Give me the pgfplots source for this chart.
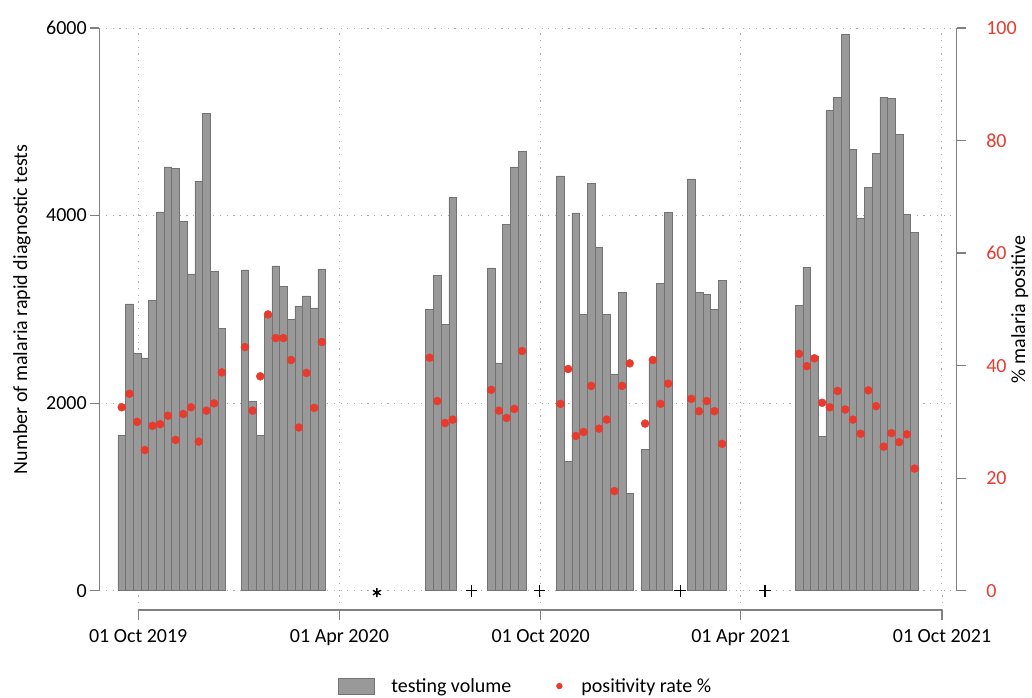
\documentclass[border=0pt]{standalone}
\usepackage{fontspec}
\setmainfont{Carlito}
\usepackage{pgfplots}
\pgfplotsset{compat=1.18}
\definecolor{barfill}{RGB}{153,153,153}
\definecolor{baredge}{RGB}{115,115,115}
\definecolor{dotred}{RGB}{233,58,46}
\definecolor{axgray}{RGB}{128,128,128}
\definecolor{gridc}{RGB}{170,170,170}

\pgfplotstableread{
d v
-15 1659
-8 3058
-1 2533
6 2483
13 3097
20 4039
27 4518
34 4500
41 3939
48 3378
55 4366
62 5087
69 3406
76 2799
97 3421
104 2018
111 1659
118 2938
125 3463
132 3247
139 2895
146 3037
153 3144
160 3016
167 3431
265 3003
272 3358
279 2837
286 4195
321 3443
328 2429
335 3904
342 4518
349 4688
384 4422
391 1383
398 4028
405 2943
412 4340
419 3659
426 2950
433 2312
440 3181
447 1035
461 1507
468 2436
475 3280
482 4035
503 4390
510 3177
517 3160
524 2996
531 3305
601 3039
608 3449
615 2500
622 1646
629 5118
636 5256
643 5933
650 4705
657 3976
664 4299
671 4665
678 5264
685 5248
692 4866
699 4016
706 3823
}\volume

\pgfplotstableread{
d p
-15 32.6
-8 35.0
-1 30.0
6 25.0
13 29.3
20 29.6
27 31.1
34 26.8
41 31.4
48 32.6
55 26.5
62 32.0
69 33.3
76 38.8
97 43.3
104 32.0
111 38.1
118 49.1
125 44.9
132 44.9
139 41.0
146 29.0
153 38.7
160 32.5
167 44.2
265 41.4
272 33.7
279 29.8
286 30.4
321 35.7
328 32.0
335 30.7
342 32.3
349 42.6
384 33.2
391 39.4
398 27.5
405 28.2
412 36.4
419 28.8
426 30.4
433 17.7
440 36.4
447 40.4
461 29.7
468 41.0
475 33.2
482 36.8
503 34.1
510 31.9
517 33.7
524 31.9
531 26.1
601 42.1
608 39.9
615 41.3
622 33.4
629 32.6
636 35.5
643 32.2
650 30.4
657 27.9
664 35.6
671 32.8
678 25.6
685 28.0
692 26.4
699 27.8
706 21.7
}\positivity

\pgfplotstableread{
d y
303 0
365 0
493 0
570 0
}\plusmarks

\pgfplotstableread{
d y
217 -20
}\starmarks

\begin{document}
\begin{tikzpicture}
\path[use as bounding box] (-99.3pt,-106.3pt) rectangle (932.7pt,590.7pt);
\pgfplotsset{
  every axis/.append style={
    font=\fontsize{20}{24}\selectfont,
    /pgf/number format/assume math mode=true,
    /pgf/number format/1000 sep={},
    scale only axis,
    axis line style={-},
  },
  mygrid/.style={grid style={draw=gridc, line width=1pt, dash pattern=on 1.2pt off 5.5pt}},
}
% bottom date axis
\begin{axis}[
  at={(38.9pt,-19.3pt)}, anchor=south west,
  width=803.8pt, height=19.3pt,
  xmin=0, xmax=731, ymin=0, ymax=1,
  axis x line*=bottom, axis y line=none,
  x axis line style={draw=axgray, line width=1.5pt},
  xtick={0,183,366,548,731},
  xticklabels={01 Oct 2019,01 Apr 2020,01 Oct 2020,01 Apr 2021,01 Oct 2021},
  xticklabel style={yshift=-6pt},
  tick align=outside, major tick length=10pt,
  xtick style={draw=axgray, line width=1.2pt},
  xmajorgrids, mygrid,
]
\addplot[draw=none] coordinates {(0,0)};
\end{axis}

% bars, left axis
\begin{axis}[
  at={(0pt,0pt)}, anchor=south west,
  width=857.4pt, height=562.7pt,
  xmin=-35.4, xmax=744.4, ymin=0, ymax=6000,
  clip=false,
  axis x line*=bottom, axis y line*=left,
  x axis line style={draw=none},
  y axis line style={draw=axgray, line width=1.5pt},
  xtick={0,183,366,548,731}, xticklabels={},
  xtick style={draw=none},
  ytick={0,2000,4000,6000},
  ytick style={draw=axgray, line width=1.2pt},
  tick align=outside, major tick length=9pt,
  xmajorgrids, ymajorgrids, mygrid,
  ylabel={Number of malaria rapid diagnostic tests},
  every axis y label/.style={at={(axis description cs:0,0.5)}, xshift=-77.3pt, rotate=90, anchor=center},
  legend columns=2,
  legend style={at={(0.497,-0.1694)}, anchor=center, draw=none, fill=none,
    font=\fontsize{20}{24}\selectfont,
    /tikz/every odd column/.append style={column sep=15pt},
    /tikz/every even column/.append style={column sep=41pt}},
  legend cell align=left,
]
\addplot[ybar, bar width=7, bar shift=0pt, fill=barfill, draw=baredge, line width=0.6pt,
  legend image code/.code={\draw[fill=barfill, draw=baredge, line width=0.6pt] (0pt,-8pt) rectangle (36pt,8pt);}]
  table[x=d, y=v] {\volume};
\addlegendentry{testing volume}
\addlegendimage{legend image code/.code={\path[draw=none, fill=none] (0pt,-3pt) rectangle (10pt,3pt); \fill[dotred, draw=none] (5pt,0pt) circle (3.2pt);}}
\addlegendentry{positivity rate \%}
\addplot[only marks, mark=+, mark size=5.8pt, line width=1.4pt, black, forget plot] table[x=d, y=y] {\plusmarks};
\addplot[only marks, mark=asterisk, mark size=4.5pt, line width=1.4pt, black, forget plot] table[x=d, y=y] {\starmarks};
\end{axis}

% dots, right axis
\begin{axis}[
  at={(0pt,0pt)}, anchor=south west,
  width=857.4pt, height=562.7pt,
  xmin=-35.4, xmax=744.4, ymin=0, ymax=100,
  axis x line=none, axis y line*=right,
  y axis line style={draw=axgray, line width=1.5pt},
  ytick={0,20,40,60,80,100},
  every y tick label/.append style={text=dotred, anchor=west, xshift=17pt},
  ytick style={draw=axgray, line width=1.2pt},
  tick align=outside, major tick length=9pt,
  ylabel={\% malaria positive},
  every axis y label/.style={at={(axis description cs:1,0.5)}, xshift=63pt, rotate=90, anchor=center},
]
\addplot[only marks, mark=*, mark size=4pt, color=dotred, mark options={draw=dotred, fill=dotred}]
  table[x=d, y=p] {\positivity};
\end{axis}
\end{tikzpicture}
\end{document}
